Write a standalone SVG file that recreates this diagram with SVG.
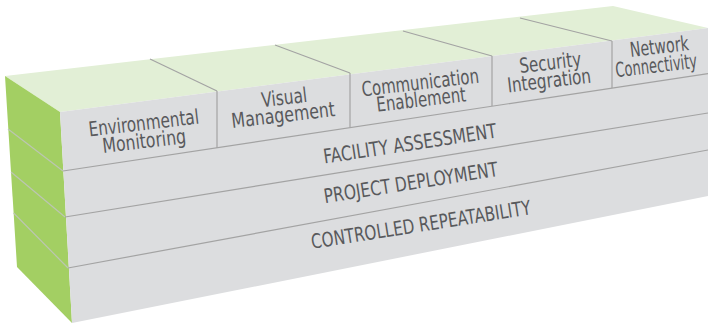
<svg xmlns="http://www.w3.org/2000/svg" width="708" height="324" viewBox="0 0 708 324">
<style>
.top{fill:#e2efd6}
.left{fill:#a3cf63}
.front{fill:#dcdddf}
.edge{stroke:#a3a3a3;stroke-width:1.2;fill:none}
.ledge{stroke:#bcc6b2;stroke-width:1.2;fill:none}
.lbl{font-family:"Liberation Sans Narrow","DejaVu Sans Condensed","Liberation Sans",sans-serif;font-size:20.5px;fill:#58595c;text-anchor:middle}
.lay{font-size:20px}
</style>
<rect width="708" height="324" fill="#ffffff"/>
<g id="block">
<polygon class="top" points="5,76 613,6 708,28 60,112"/>
<polygon class="left" points="5,76 60,112 72,323 17,267"/>
<polygon class="front" points="60,112 708,28 708,196 72,323"/>
</g>
<g id="connectors">
<line class="edge" x1="150" y1="59" x2="217" y2="91"/>
<line class="edge" x1="275" y1="45" x2="350" y2="73"/>
<line class="edge" x1="403" y1="31" x2="492" y2="56"/>
<line class="edge" x1="520" y1="18" x2="612" y2="41"/>
<line class="edge" x1="217" y1="91" x2="217" y2="148"/>
<line class="edge" x1="350" y1="73" x2="350" y2="127.5"/>
<line class="edge" x1="492" y1="56" x2="492" y2="106"/>
<line class="edge" x1="612" y1="41" x2="612" y2="88"/>
<line class="edge" x1="63" y1="171" x2="708" y2="73.6"/>
<line class="edge" x1="65" y1="217" x2="708" y2="113"/>
<line class="edge" x1="68" y1="268" x2="708" y2="150"/>
<line class="ledge" x1="8" y1="129" x2="63" y2="171"/>
<line class="ledge" x1="11" y1="172" x2="65" y2="217"/>
<line class="ledge" x1="13.6" y1="213" x2="68" y2="268"/>
</g>
<g id="environmental-monitoring">
<text class="lbl" transform="translate(144.5,130) rotate(-6.7)" textLength="111" lengthAdjust="spacingAndGlyphs">Environmental</text>
<text class="lbl" transform="translate(145,148) rotate(-6.7)" textLength="84" lengthAdjust="spacingAndGlyphs">Monitoring</text>
</g>
<g id="visual-management">
<text class="lbl" transform="translate(285,104.5) rotate(-6.7)" textLength="46" lengthAdjust="spacingAndGlyphs">Visual</text>
<text class="lbl" transform="translate(284,122) rotate(-6.7)" textLength="104" lengthAdjust="spacingAndGlyphs">Management</text>
</g>
<g id="communication-enablement">
<text class="lbl" transform="translate(421,89.5) rotate(-6.7)" textLength="118" lengthAdjust="spacingAndGlyphs">Communication</text>
<text class="lbl" transform="translate(422,106.5) rotate(-6.7)" textLength="90" lengthAdjust="spacingAndGlyphs">Enablement</text>
</g>
<g id="security-integration">
<text class="lbl" transform="translate(551,69.5) rotate(-6.7)" textLength="62" lengthAdjust="spacingAndGlyphs">Security</text>
<text class="lbl" transform="translate(550,87.5) rotate(-6.7)" textLength="84" lengthAdjust="spacingAndGlyphs">Integration</text>
</g>
<g id="network-connectivity">
<text class="lbl" transform="translate(660,53.5) rotate(-6.7)" textLength="59" lengthAdjust="spacingAndGlyphs">Network</text>
<text class="lbl" transform="translate(657,72.5) rotate(-6.7)" textLength="82" lengthAdjust="spacingAndGlyphs">Connectivity</text>
</g>
<g id="facility-assessment">
<text class="lbl lay" transform="translate(411,150.5) rotate(-8.6)" textLength="175" lengthAdjust="spacingAndGlyphs">FACILITY ASSESSMENT</text>
</g>
<g id="project-deployment">
<text class="lbl lay" transform="translate(412,189.5) rotate(-9)" textLength="176" lengthAdjust="spacingAndGlyphs">PROJECT DEPLOYMENT</text>
</g>
<g id="controlled-repeatability">
<text class="lbl lay" transform="translate(422,231.5) rotate(-9)" textLength="222" lengthAdjust="spacingAndGlyphs">CONTROLLED REPEATABILITY</text>
</g>
</svg>
